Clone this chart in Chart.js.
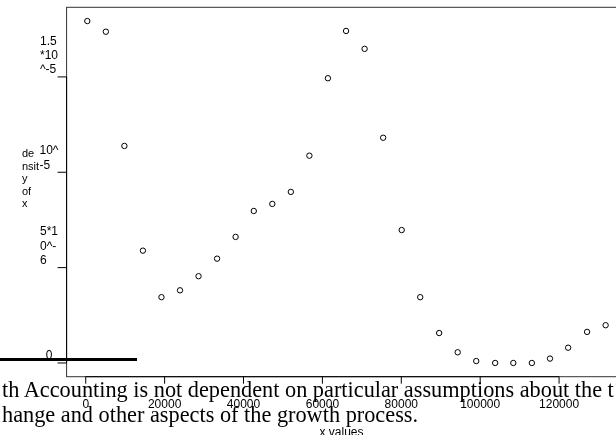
<!DOCTYPE html>
<html lang="en">
  <head>
    <meta charset="UTF-8" />
    <title>density of x</title>
    <script src="https://cdn.jsdelivr.net/npm/chart.js@4/dist/chart.umd.min.js"></script>
    <style>
      html, body { margin: 0; padding: 0; background: #fff; overflow: hidden; }
      #wrap { position: relative; width: 616px; height: 435px; overflow: hidden; }
      #chart { position: absolute; left: 0; top: 0; }
      #note {
        position: absolute; left: 2px; top: 377px;
        font-family: "Liberation Serif", "Times New Roman", serif;
        font-size: 22.3px; line-height: 25px; color: #000; white-space: pre;
      }
      #rule { position: absolute; left: 0; top: 358px; width: 137px; height: 3px; background: #000; }
    </style>
  </head>
  <body>
    <div id="wrap">
      <canvas id="chart" width="640" height="435"></canvas>
      <div id="rule"></div>
      <div id="note"></div>
    </div>

    <script>
      // data
      const xValues = [400, 5100, 9800, 14500, 19200, 23900, 28600, 33300, 38000, 42600,
        47300, 52000, 56700, 61400, 66000, 70700, 75400, 80100, 84800, 89600,
        94300, 99000, 103800, 108400, 113100, 117700, 122300, 127100, 131800];
      const densityValues = [1.793e-5, 1.737e-5, 1.138e-5, 5.89e-6, 3.45e-6, 3.81e-6, 4.55e-6,
        5.47e-6, 6.61e-6, 7.97e-6, 8.34e-6, 8.97e-6, 1.087e-5, 1.493e-5, 1.741e-5,
        1.647e-5, 1.181e-5, 6.97e-6, 3.45e-6, 1.57e-6, 5.6e-7, 1.0e-7, 0, 0, 0,
        2.3e-7, 8.0e-7, 1.63e-6, 1.98e-6];

      const xTicks = [0, 20000, 40000, 60000, 80000, 100000, 120000];
      const xTickLabels = ["0", "20000", "40000", "60000", "80000", "100000", "120000"];
      const yTicks = [0, 5e-6, 1e-5, 1.5e-5];
      const yTickLabels = [["0"], ["5*1", "0^-", "6"], ["10^", "-5"], ["1.5", "*10", "^-5"]];
      const yTitle = ["de", "nsit", "y", "of", "x"];
      const xTitle = "x values";
      const noteLines = [
        "th Accounting is not dependent on particular assumptions about the t",
        "hange and other aspects of the growth process."
      ];

      document.getElementById("note").textContent = noteLines.join("\n");

      const sans = '12px "Liberation Sans", Arial, sans-serif';
      const sansSmall = '11px "Liberation Sans", Arial, sans-serif';

      // R style box, offset axes and stacked labels
      const axesPlugin = {
        id: "rAxes",
        afterDraw(chart) {
          const ctx = chart.ctx;
          const area = chart.chartArea;
          const xs = chart.scales.x;
          const ys = chart.scales.y;
          ctx.save();

          // plot box
          ctx.strokeStyle = "#333";
          ctx.lineWidth = 1;
          ctx.strokeRect(area.left, area.top, area.right - area.left, area.bottom - area.top);

          ctx.strokeStyle = "#000";
          // y axis
          const y0 = ys.getPixelForValue(yTicks[0]);
          const y1 = ys.getPixelForValue(yTicks[yTicks.length - 1]);
          ctx.beginPath();
          ctx.moveTo(area.left, y0);
          ctx.lineTo(area.left, y1);
          yTicks.forEach((v) => {
            const p = ys.getPixelForValue(v);
            ctx.moveTo(area.left - 9, p);
            ctx.lineTo(area.left, p);
          });
          // x axis
          const x0 = xs.getPixelForValue(xTicks[0]);
          const x1 = xs.getPixelForValue(xTicks[xTicks.length - 1]);
          ctx.moveTo(x0, area.bottom);
          ctx.lineTo(x1, area.bottom);
          xTicks.forEach((v) => {
            const p = xs.getPixelForValue(v);
            ctx.moveTo(p, area.bottom);
            ctx.lineTo(p, area.bottom + 7);
          });
          ctx.stroke();

          ctx.fillStyle = "#000";
          ctx.font = sans;
          ctx.textBaseline = "middle";

          // x tick labels
          ctx.textAlign = "center";
          xTicks.forEach((v, i) => {
            ctx.fillText(xTickLabels[i], xs.getPixelForValue(v), area.bottom + 28);
          });

          // y tick labels, lines left aligned in a block centred near x=49
          ctx.textAlign = "left";
          yTicks.forEach((v, i) => {
            const lines = yTickLabels[i];
            const w = Math.max(...lines.map((s) => ctx.measureText(s).width));
            const left = 49 - w / 2;
            const p = ys.getPixelForValue(v);
            lines.forEach((s, j) => {
              ctx.fillText(s, left, p - 7 - (lines.length - 1 - j) * 14.3);
            });
          });

          // y title
          ctx.font = sansSmall;
          yTitle.forEach((s, j) => {
            ctx.fillText(s, 22, 154 + j * 12.6);
          });

          // x title
          ctx.font = sans;
          ctx.textAlign = "center";
          ctx.textBaseline = "alphabetic";
          ctx.fillText(xTitle, 341.5, 436);

          ctx.restore();
        },
      };

      const points = xValues.map((x, i) => ({ x: x, y: densityValues[i] }));

      const ctx = document.getElementById("chart").getContext("2d");
      const myChart = new Chart(ctx, {
        type: "scatter",
        data: {
          datasets: [
            {
              label: "density",
              data: points,
              pointRadius: 2.7,
              pointBorderWidth: 1,
              borderColor: "#000",
              backgroundColor: "rgba(255,255,255,0)",
              showLine: false,
            },
          ],
        },
        options: {
          responsive: false,
          animation: false,
          events: [],
          layout: {
            padding: { left: 66.6, right: 13.6, top: 7.3, bottom: 58.3 },
          },
          plugins: {
            legend: { display: false },
            tooltip: { enabled: false },
          },
          scales: {
            x: { type: "linear", min: -4850, max: 137070, display: false },
            y: { type: "linear", min: -7.2e-7, max: 1.865e-5, display: false },
          },
        },
        plugins: [axesPlugin],
      });
    </script>
  </body>
</html>
